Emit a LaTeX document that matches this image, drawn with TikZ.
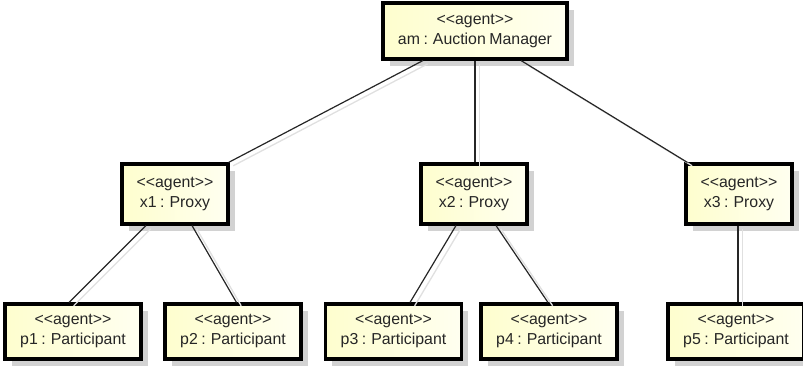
\documentclass[tikz,border=0pt]{standalone}
\usepackage{fontspec}
\newfontfamily\agentfont[WordSpace=0.8]{Liberation Sans}
\usetikzlibrary{calc,shadows}
\definecolor{boxleft}{RGB}{254,254,206}
\definecolor{boxright}{RGB}{255,255,240}
\definecolor{shadowgray}{RGB}{210,210,210}
\begin{document}
\begin{tikzpicture}[x=0.75pt,y=-0.75pt,
    agent/.style={draw=black,line width=2.3pt,left color=boxleft,right color=boxright,
        align=center,inner sep=0pt,font=\agentfont\fontsize{11.9}{15}\selectfont,text=black!85,
        drop shadow={shadow xshift=5pt,shadow yshift=-5pt,fill=shadowgray,opacity=1}},
    manager/.style={agent,minimum width=138pt,minimum height=42pt},
    proxy/.style={agent,minimum width=79.5pt,minimum height=45pt},
    participant/.style={agent,minimum width=102pt,minimum height=41.25pt},
    link/.style={draw=black!85,line width=0.9pt,
        preaction={draw=black!12,line width=1pt,transform canvas={shift={(3.5pt,-2.5pt)}}}}]
    \useasboundingbox (0,0) rectangle (803,367);
    \node[manager] (am) at (475,31) {<<agent>>\\am : Auction Manager};
    \node[proxy] (x1) at (175,194) {<<agent>>\\x1 : Proxy};
    \node[proxy] (x2) at (474,194) {<<agent>>\\x2 : Proxy};
    \node[proxy] (x3) at (739,194) {<<agent>>\\x3 : Proxy};
    \node[participant] (p1) at (73,331.5) {<<agent>>\\p1 : Participant};
    \node[participant] (p2) at (233,331.5) {<<agent>>\\p2 : Participant};
    \node[participant] (p3) at (393.5,331.5) {<<agent>>\\p3 : Participant};
    \node[participant] (p4) at (549,331.5) {<<agent>>\\p4 : Participant};
    \node[participant] (p5) at (736,331.5) {<<agent>>\\p5 : Participant};
    \draw[link] ($(am.south)+(-52,0)$) -- ($(x1.north east)+(-1,0)$);
    \draw[link] (am.south) -- (am.south |- x2.north);
    \draw[link] ($(am.south)+(46,0)$) -- ($(x3.north west)+(3,0)$);
    \draw[link] ($(x1.south)+(-29,0)$) -- ($(p1.north)+(-4,0)$);
    \draw[link] ($(x1.south)+(17,0)$) -- ($(p2.north)+(3.5,0)$);
    \draw[link] ($(x2.south)+(-18,0)$) -- ($(p3.north)+(16.5,0)$);
    \draw[link] ($(x2.south)+(22,0)$) -- ($(p4.north)+(-1,0)$);
    \draw[link] ($(x3.south)+(-1,0)$) -- ($(x3.south |- p5.north)+(-1,0)$);
\end{tikzpicture}
\end{document}
